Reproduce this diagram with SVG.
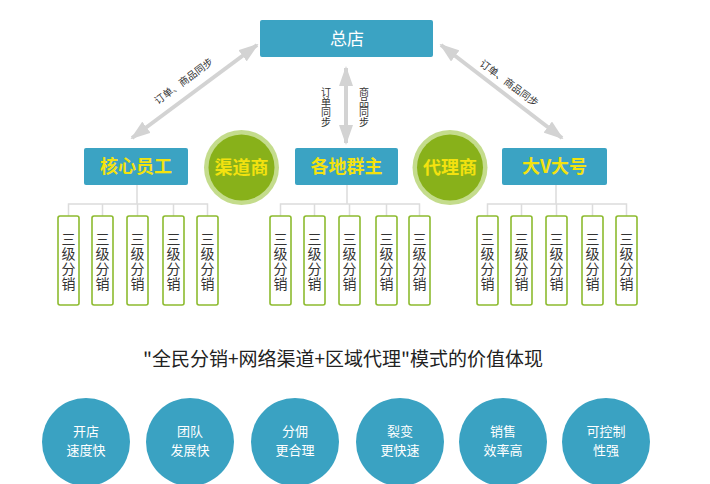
<svg xmlns="http://www.w3.org/2000/svg" width="710" height="484" viewBox="0 0 710 484">
<defs>
<style>
.bx{fill:#3ba3c3;}
.bt{font-family:"Noto Sans CJK SC","Liberation Sans",sans-serif;font-size:18px;font-weight:bold;fill:#f3e20f;text-anchor:middle;}
.top{font-family:"Noto Sans CJK SC","Liberation Sans",sans-serif;font-size:17px;fill:#ffffff;text-anchor:middle;}
.ring{fill:#c4dc8c;}
.core{fill:#88b11a;}
.sb{fill:#ffffff;stroke:#8dbb2f;stroke-width:1.6;}
.st{font-family:"Noto Sans CJK SC","Liberation Sans",sans-serif;font-size:14px;fill:#333333;text-anchor:middle;}
.tree{stroke:#dcdcdc;stroke-width:1.5;fill:none;}
.arr{stroke:#d3d3d3;stroke-width:4;fill:none;}
.al{font-family:"Noto Sans CJK SC","Liberation Sans",sans-serif;font-size:10px;fill:#333333;text-anchor:middle;}
.vl{font-family:"Noto Sans CJK SC","Liberation Sans",sans-serif;font-size:10px;fill:#333333;writing-mode:vertical-rl;text-orientation:upright;}
.bc{fill:#3aa2c2;}
.ct{font-family:"Noto Sans CJK SC","Liberation Sans",sans-serif;font-size:13px;fill:#ffffff;text-anchor:middle;}
.title{font-family:"Noto Sans CJK SC","Liberation Sans",sans-serif;font-size:19px;fill:#222222;text-anchor:middle;}
</style>
<marker id="ah" viewBox="0 0 20 14" refX="18" refY="7" markerWidth="20" markerHeight="14" markerUnits="userSpaceOnUse" orient="auto-start-reverse">
<path d="M0,0 L20,7 L0,14 Z" fill="#d3d3d3"/>
</marker>
<g id="sbox">
<rect class="sb" x="0" y="0" width="21" height="89" rx="2"/>
<text class="st" x="10.5" y="28">三</text>
<text class="st" x="10.5" y="43">级</text>
<text class="st" x="10.5" y="58">分</text>
<text class="st" x="10.5" y="73">销</text>
</g>
</defs>
<rect width="710" height="484" fill="#ffffff"/>

<g id="connectors">
<line class="arr" x1="132" y1="138" x2="257" y2="45" marker-start="url(#ah)" marker-end="url(#ah)"/>
<line class="arr" x1="441" y1="45" x2="562" y2="138" marker-start="url(#ah)" marker-end="url(#ah)"/>
<line class="arr" x1="346" y1="68" x2="346" y2="143" marker-start="url(#ah)" marker-end="url(#ah)"/>
<text class="al" transform="translate(186,84) rotate(-36.5)">订单、商品同步</text>
<text class="al" transform="translate(507,86) rotate(37)">订单、商品同步</text>
<text class="vl" x="326" y="87">订单同步</text>
<text class="vl" x="364" y="87">商品同步</text>
<path class="tree" d="M137,185 V204 M68.5,216 V204 H207.5 V216 M102.5,204 V216 M137.5,204 V216 M173.5,204 V216"/>
<path class="tree" d="M347,185 V204 M280.5,216 V204 H419.5 V216 M314.5,204 V216 M349.5,204 V216 M386.5,204 V216"/>
<path class="tree" d="M556,185 V204 M487.5,216 V204 H626.5 V216 M521.5,204 V216 M556.5,204 V216 M592.5,204 V216"/>
</g>

<g id="hq"><rect class="bx" x="260" y="20" width="173" height="37" rx="2"/><text class="top" x="347" y="45">总店</text></g>
<g id="staff"><rect class="bx" x="84" y="148" width="104" height="37" rx="2"/><text class="bt" x="136" y="173">核心员工</text></g>
<g id="group"><rect class="bx" x="295" y="148" width="103" height="37" rx="2"/><text class="bt" x="346.5" y="173">各地群主</text></g>
<g id="bigv"><rect class="bx" x="502" y="148" width="105" height="37" rx="2"/><text class="bt" x="554.5" y="173">大V大号</text></g>
<g id="channel"><circle class="ring" cx="241.5" cy="167.5" r="37.5"/><circle class="core" cx="241.5" cy="167.5" r="33"/><text class="bt" x="241.5" y="174">渠道商</text></g>
<g id="agent"><circle class="ring" cx="450" cy="167.5" r="37.5"/><circle class="core" cx="450" cy="167.5" r="33"/><text class="bt" x="450" y="174">代理商</text></g>

<g id="dist1">
<use href="#sbox" x="58" y="216"/><use href="#sbox" x="92" y="216"/><use href="#sbox" x="127" y="216"/><use href="#sbox" x="163" y="216"/><use href="#sbox" x="197" y="216"/>
</g>
<g id="dist2">
<use href="#sbox" x="270" y="216"/><use href="#sbox" x="304" y="216"/><use href="#sbox" x="339" y="216"/><use href="#sbox" x="376" y="216"/><use href="#sbox" x="409" y="216"/>
</g>
<g id="dist3">
<use href="#sbox" x="477" y="216"/><use href="#sbox" x="511" y="216"/><use href="#sbox" x="546" y="216"/><use href="#sbox" x="582" y="216"/><use href="#sbox" x="616" y="216"/>
</g>

<text class="title" x="343" y="366">"全民分销+网络渠道+区域代理"模式的价值体现</text>

<g id="v1"><circle class="bc" cx="86" cy="442" r="44"/><text class="ct" x="86" y="436">开店</text><text class="ct" x="86" y="455">速度快</text></g>
<g id="v2"><circle class="bc" cx="190" cy="442" r="44"/><text class="ct" x="190" y="436">团队</text><text class="ct" x="190" y="455">发展快</text></g>
<g id="v3"><circle class="bc" cx="295" cy="442" r="44"/><text class="ct" x="295" y="436">分佣</text><text class="ct" x="295" y="455">更合理</text></g>
<g id="v4"><circle class="bc" cx="400" cy="442" r="44"/><text class="ct" x="400" y="436">裂变</text><text class="ct" x="400" y="455">更快速</text></g>
<g id="v5"><circle class="bc" cx="503" cy="442" r="44"/><text class="ct" x="503" y="436">销售</text><text class="ct" x="503" y="455">效率高</text></g>
<g id="v6"><circle class="bc" cx="606" cy="442" r="44"/><text class="ct" x="606" y="436">可控制</text><text class="ct" x="606" y="455">性强</text></g>
</svg>
